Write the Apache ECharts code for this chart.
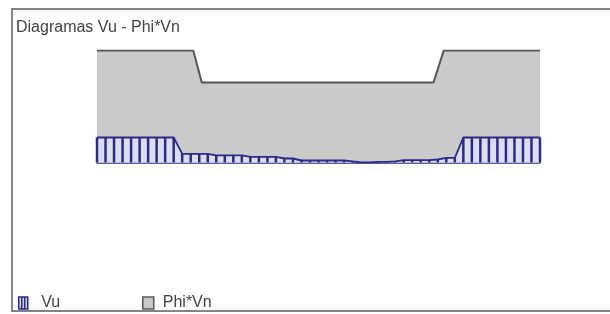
<!DOCTYPE html>
<html>
<head>
<meta charset="utf-8">
<script src="https://cdn.jsdelivr.net/npm/echarts@6/dist/echarts.min.js"></script>
<style>
html, body { margin: 0; padding: 0; background: #fff; }
#chart { width: 610px; height: 314px; }
</style>
</head>
<body>
<div id="chart"></div>
<script>
// estaciones a lo largo de la viga (0..52)
var stations = [];
for (var i = 0; i <= 52; i++) stations.push(i);

// Vu en cada estacion
var vuValues = [
    12.5, 12.5, 12.5, 12.5, 12.5, 12.5, 12.5, 12.5, 12.5, 12.5,
    4.3, 4.3, 4.3, 4.3, 3.6, 3.6, 3.6, 3.6, 2.8, 2.8,
    2.8, 2.8, 2.0, 2.0, 1.0, 1.0, 1.0, 1.0, 1.0, 1.0,
    0.6, 0, 0, 0.3, 0.3, 0.6, 1.2, 1.2, 1.2, 1.2,
    1.5, 2.3, 2.3, 12.5, 12.5, 12.5, 12.5, 12.5, 12.5, 12.5,
    12.5, 12.5, 12.5
];

// Phi*Vn (puntos de quiebre)
var phiX = [0, 11.3, 12.3, 39.5, 40.7, 52];
var phiVn = [56, 56, 40, 40, 56, 56];

var vuPairs = stations.map(function (s, i) { return [s, vuValues[i]]; });
var phiPairs = phiX.map(function (s, i) { return [s, phiVn[i]]; });

var navy = '#2a2a88';

var chart = echarts.init(document.getElementById('chart'));
var option = {
    backgroundColor: '#fff',
    animation: false,
    title: {
        text: 'Diagramas Vu - Phi*Vn',
        left: 16,
        top: 20,
        padding: 0,
        textStyle: {
            fontFamily: 'Liberation Sans',
            fontSize: 16,
            fontWeight: 'normal',
            color: '#444'
        }
    },
    graphic: [{
        type: 'rect',
        shape: { x: 12, y: 9, width: 620, height: 302 },
        style: { fill: null, stroke: '#858585', lineWidth: 2 },
        silent: true
    }],
    legend: [{
        left: 18,
        top: 295,
        padding: 0,
        itemWidth: 10,
        itemHeight: 12,
        textStyle: { fontFamily: 'Liberation Sans', fontSize: 16, color: '#444', padding: [2, 0, 0, 8] },
        data: [{
            name: 'Vu',
            icon: 'path://M0,0 H9 V12 H0 Z M3,0 V12 M6,0 V12',
            itemStyle: { color: '#d4d4ee', borderColor: navy, borderWidth: 1.5 }
        }]
    }, {
        left: 142,
        top: 295,
        padding: 0,
        itemWidth: 11,
        itemHeight: 12,
        textStyle: { fontFamily: 'Liberation Sans', fontSize: 16, color: '#444', padding: [2, 0, 0, 4] },
        data: [{
            name: 'Phi*Vn',
            icon: 'rect',
            itemStyle: { color: '#c8c8c8', borderColor: '#555', borderWidth: 1.5 }
        }]
    }],
    grid: { left: 97, right: 70, top: 50.5, bottom: 151.5 },
    xAxis: {
        type: 'value',
        min: 0,
        max: 52,
        axisLine: { show: true, lineStyle: { color: navy, width: 1.5 } },
        axisTick: { show: false },
        axisLabel: { show: false },
        splitLine: { show: false }
    },
    yAxis: {
        type: 'value',
        min: 0,
        max: 56,
        show: false,
        splitLine: { show: false }
    },
    series: [
        {
            name: 'Phi*Vn',
            type: 'line',
            data: phiPairs,
            symbol: 'none',
            lineStyle: { color: '#555', width: 2 },
            areaStyle: { color: '#cacaca', opacity: 1 },
            itemStyle: { color: '#c8c8c8' },
            z: 1
        },
        {
            name: 'Vu',
            type: 'line',
            data: vuPairs,
            symbol: 'none',
            lineStyle: { color: navy, width: 1.8 },
            areaStyle: { color: '#dcdcf2', opacity: 1 },
            z: 2
        },
        {
            name: 'Vu',
            type: 'bar',
            data: vuPairs,
            barWidth: 2.5,
            itemStyle: { color: navy },
            z: 3
        }
    ]
};
chart.setOption(option);
</script>
</body>
</html>
